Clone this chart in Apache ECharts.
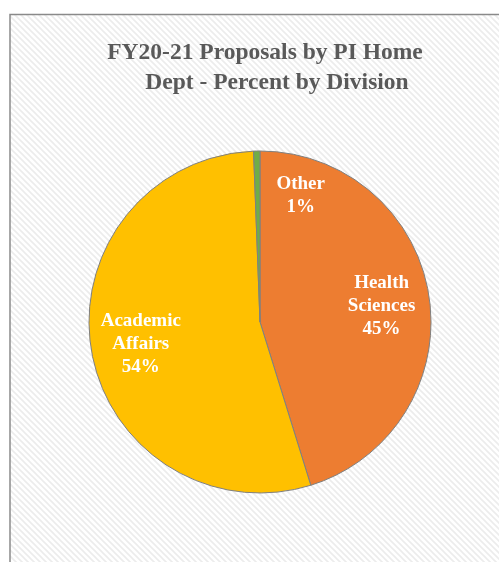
<!DOCTYPE html>
<html><head><meta charset="utf-8">
<script src="https://cdn.jsdelivr.net/npm/echarts@6/dist/echarts.min.js"></script>
<style>html,body{margin:0;padding:0;background:#fff}#c{width:499px;height:562px}</style>
</head><body><div id="c"></div>
<script>
const categories = ['Health\nSciences', 'Academic\nAffairs', 'Other'];
const values = [45.2, 54.2, 0.6];
const colors = ['#ED7D31', '#FFC000', '#70AD47'];
const titleLines = ['FY20-21 Proposals by PI Home', 'Dept - Percent by Division'];

const pc = document.createElement('canvas');
pc.width = 6; pc.height = 6;
const g = pc.getContext('2d');
g.fillStyle = '#ffffff'; g.fillRect(0,0,6,6);
g.strokeStyle = '#ececec'; g.lineWidth = 1.6;
g.beginPath();
g.moveTo(-2,-2); g.lineTo(8,8);
g.moveTo(-5,1); g.lineTo(1,7);
g.moveTo(1,-5); g.lineTo(7,1);
g.stroke();

const labelOffsets = [[0,3],[2,1],[43,-3]];
const chart = echarts.init(document.getElementById('c'), null, {renderer:'canvas'});
const data = categories.map((c,i)=>({name:c, value:values[i], itemStyle:{color:colors[i]}}));
const labelData = categories.map((c,i)=>({name:c, value:values[i],
  label:{offset:labelOffsets[i]}}));
const tStyle = {fontFamily:'Liberation Serif', fontWeight:'bold', fontSize:23.5, color:'#595959'};
chart.setOption({
  backgroundColor:'#ffffff',
  graphic:[{type:'rect', z:-10, shape:{x:10,y:14.5,width:600,height:600},
    style:{fill:{image:pc, repeat:'repeat'}, stroke:'#8a8a8a', lineWidth:1.5}}],
  title:[
    {text:titleLines[0], left:265, top:41, textAlign:'center', padding:0, textStyle:tStyle},
    {text:titleLines[1], left:277, top:71, textAlign:'center', padding:0, textStyle:tStyle}
  ],
  series:[{
    type:'pie', center:[260,322], radius:[0,171], startAngle:90, clockwise:true,
    silent:true, label:{show:false}, labelLine:{show:false},
    itemStyle:{borderColor:'#808080', borderWidth:1},
    data:data
  },{
    type:'pie', center:[260,322], radius:[69,171], startAngle:90, clockwise:true,
    silent:true, z:5,
    itemStyle:{color:'rgba(0,0,0,0)', borderWidth:0},
    label:{show:true, position:'inside', color:'#ffffff', fontFamily:'Liberation Serif',
      fontWeight:'bold', fontSize:19, lineHeight:23,
      formatter:p=>p.name+'\n'+Math.round(p.value)+'%'},
    labelLine:{show:false},
    data:labelData
  }]
});
</script></body></html>
